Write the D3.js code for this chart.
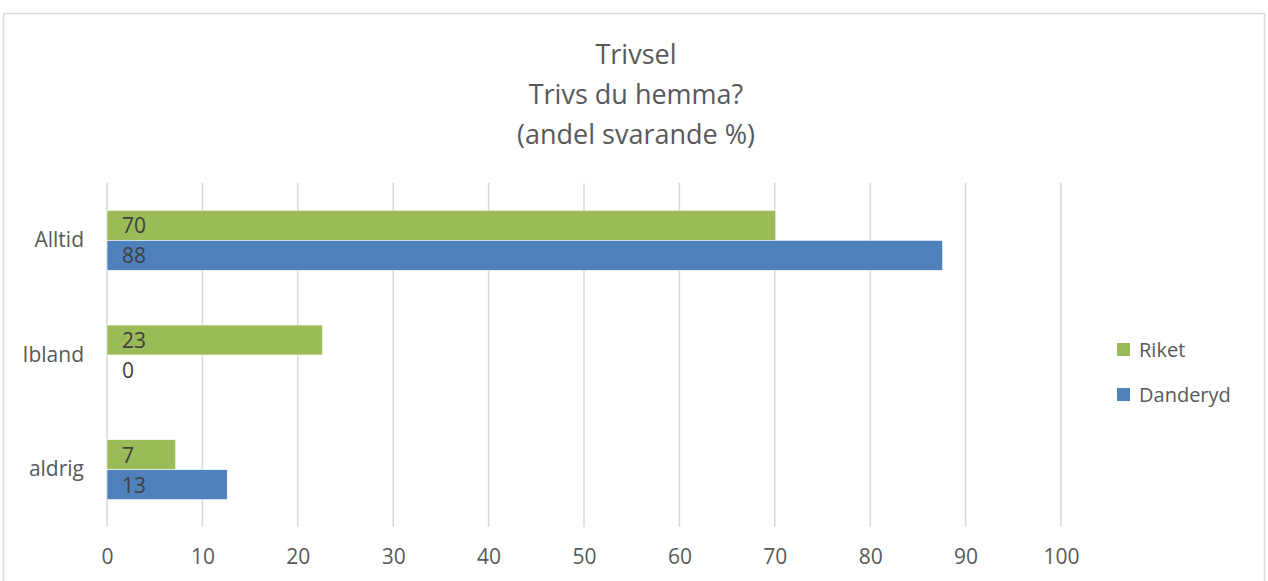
<!DOCTYPE html>
<html>
<head>
<meta charset="utf-8">
<script src="https://cdn.jsdelivr.net/npm/d3@7"></script>
<style>
  body { margin: 0; background: #fff; }
  text { font-family: "Open Sans", "Noto Sans", sans-serif; fill: #595959; }
</style>
</head>
<body>
<div id="chart"></div>
<script>
// data
var categories = ["Alltid", "Ibland", "aldrig"];
var seriesNames = ["Riket", "Danderyd"];
var riket = [70.1, 22.6, 7.2];
var danderyd = [87.6, 0, 12.6];
var xTicks = [0, 10, 20, 30, 40, 50, 60, 70, 80, 90, 100];
var titleLines = ["Trivsel", "Trivs du hemma?", "(andel svarande %)"];

var colors = { "Riket": "#9bbb59", "Danderyd": "#4f81bd" };

var W = 1268, H = 581;
var plot = { left: 107, right: 1061, top: 183, bottom: 527 };

var svg = d3.select("#chart")
    .append("svg")
    .attr("width", W)
    .attr("height", H);

// chart frame
svg.append("rect")
    .attr("x", 3.5).attr("y", 13.5)
    .attr("width", 1261).attr("height", 600)
    .attr("fill", "none")
    .attr("stroke", "#d9d9d9")
    .attr("stroke-width", 1.5);

// title
svg.append("g").selectAll("text")
    .data(titleLines)
    .join("text")
    .attr("x", 636)
    .attr("y", function (d, i) { return 53 + i * 40; })
    .attr("text-anchor", "middle")
    .attr("dominant-baseline", "central")
    .attr("font-size", "27px")
    .text(function (d) { return d; });

var x = d3.scaleLinear()
    .domain([0, 100])
    .range([plot.left, plot.right]);

var y = d3.scaleBand()
    .domain(categories)
    .range([plot.top, plot.bottom])
    .paddingInner(0.477)
    .paddingOuter(0.2385);

var ySub = d3.scaleBand()
    .domain(seriesNames)
    .range([0, y.bandwidth()]);

// gridlines (vertical)
svg.append("g").selectAll("line")
    .data(xTicks)
    .join("line")
    .attr("x1", function (d) { return x(d); })
    .attr("x2", function (d) { return x(d); })
    .attr("y1", plot.top)
    .attr("y2", plot.bottom)
    .attr("stroke", "#d9d9d9")
    .attr("stroke-width", 1.5);

// x axis labels
var xAxis = svg.append("g")
    .attr("transform", "translate(0," + plot.bottom + ")")
    .call(d3.axisBottom(x).tickValues(xTicks).tickSize(0).tickPadding(22));
xAxis.select(".domain").remove();
xAxis.selectAll("text")
    .attr("font-size", "21px")
    .attr("font-family", "Open Sans, Noto Sans, sans-serif")
    .attr("fill", "#595959");

// y axis labels
var yAxis = svg.append("g")
    .attr("transform", "translate(" + (plot.left - 23) + ",0)")
    .call(d3.axisLeft(y).tickSize(0).tickPadding(0));
yAxis.select(".domain").remove();
yAxis.selectAll("text")
    .attr("font-size", "21px")
    .attr("font-family", "Open Sans, Noto Sans, sans-serif")
    .attr("fill", "#595959");

// rows of bars
var rows = [];
categories.forEach(function (c, i) {
    rows.push({ cat: c, series: "Riket", value: riket[i] });
    rows.push({ cat: c, series: "Danderyd", value: danderyd[i] });
});

svg.append("g").selectAll("rect")
    .data(rows)
    .join("rect")
    .attr("x", x(0))
    .attr("y", function (d) { return y(d.cat) + ySub(d.series); })
    .attr("width", function (d) { return x(d.value) - x(0); })
    .attr("height", ySub.bandwidth())
    .attr("fill", function (d) { return colors[d.series]; })
    .attr("stroke", "#ffffff")
    .attr("stroke-width", 0.6);

// data labels
svg.append("g").selectAll("text")
    .data(rows)
    .join("text")
    .attr("x", x(0) + 15)
    .attr("y", function (d) { return y(d.cat) + ySub(d.series) + ySub.bandwidth() / 2; })
    .attr("dominant-baseline", "central")
    .attr("font-size", "21px")
    .style("fill", "#404040")
    .text(function (d) { return Math.round(d.value); });

// legend
var legend = svg.append("g").selectAll("g")
    .data(seriesNames)
    .join("g")
    .attr("transform", function (d, i) { return "translate(1117," + (343 + i * 45) + ")"; });

legend.append("rect")
    .attr("width", 13).attr("height", 13)
    .attr("fill", function (d) { return colors[d]; });

legend.append("text")
    .attr("x", 22)
    .attr("y", 6.5)
    .attr("dominant-baseline", "central")
    .attr("font-size", "20px")
    .text(function (d) { return d; });
</script>
</body>
</html>
